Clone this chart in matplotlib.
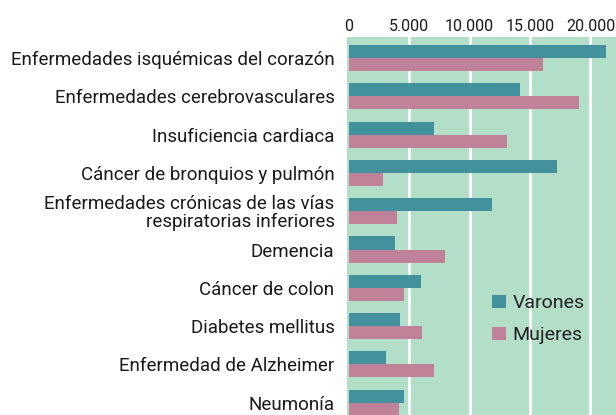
import matplotlib
matplotlib.use("Agg")
import matplotlib.pyplot as plt
import numpy as np

# causas de muerte, numero de defunciones por sexo
causas = [
    "Enfermedades isquémicas del corazón",
    "Enfermedades cerebrovasculares",
    "Insuficiencia cardiaca",
    "Cáncer de bronquios y pulmón",
    "Enfermedades crónicas de las vías\nrespiratorias inferiores",
    "Demencia",
    "Cáncer de colon",
    "Diabetes mellitus",
    "Enfermedad de Alzheimer",
    "Neumonía",
]
varones = [21300, 14200, 7050, 17250, 11850, 3800, 5950, 4250, 3050, 4550]
mujeres = [16100, 19050, 13100, 2800, 4000, 7950, 4550, 6050, 7050, 4150]
ticks = [0, 5000, 10000, 15000, 20000]
tick_labels = ["0", "5.000", "10.000", "15.000", "20.000"]

plt.rcParams["font.family"] = ["Roboto", "DejaVu Sans"]

fig = plt.figure(figsize=(6.16, 4.15), dpi=100, facecolor="white")
ax = fig.add_axes([347 / 616, 0.0, 1 - 347 / 616, 1 - 37 / 415])
ax.set_facecolor("#b3dec8")

y = np.arange(len(causas))
h = 0.34
ax.barh(y - h / 2, varones, height=h, color="#44919e", label="Varones", zorder=3)
ax.barh(y + h / 2, mujeres, height=h, color="#bf8298", label="Mujeres", zorder=3)

ax.set_xlim(-166, 22120)
ax.set_ylim(9.32, -0.548)

ax.set_xticks(ticks)
ax.set_xticklabels(tick_labels)
ax.xaxis.tick_top()
ax.grid(axis="x", color="white", linewidth=2.0, zorder=1)
ax.set_axisbelow(True)
# no white line at zero
ax.get_xgridlines()[0].set_visible(False)

ax.set_yticks(y)
ax.set_yticklabels(causas, linespacing=0.95)
ax.tick_params(axis="y", length=0, labelsize=13.5, colors="#1a1a1a", pad=9)
ax.tick_params(axis="x", length=0, labelsize=11.5, colors="#1a1a1a", pad=2)

for s in ax.spines.values():
    s.set_visible(False)

ax.legend(loc="upper left", bbox_to_anchor=(0.51, 0.34), frameon=False,
          fontsize=14, handlelength=0.72, handleheight=0.72, handletextpad=0.35,
          labelspacing=0.72, labelcolor="#222222", borderaxespad=0.0)

fig.savefig("out.png", dpi=100, facecolor="white")
